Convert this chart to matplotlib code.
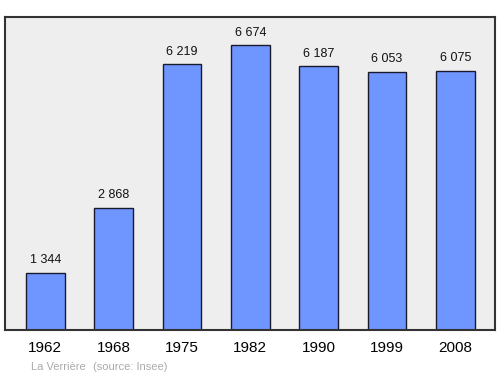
import matplotlib
matplotlib.use("Agg")
import matplotlib.pyplot as plt

years = ["1962", "1968", "1975", "1982", "1990", "1999", "2008"]
population = [1344, 2868, 6219, 6674, 6187, 6053, 6075]
value_labels = ["1 344", "2 868", "6 219", "6 674", "6 187", "6 053", "6 075"]

plt.rcParams['font.family'] = ['Liberation Sans', 'DejaVu Sans']

fig = plt.figure(figsize=(5, 3.74), dpi=100)
ax = fig.add_axes([0.01, 0.1176, 0.98, 0.837])
ax.set_facecolor('#eeeeee')
x = list(range(len(years)))
ax.bar(x, population, width=0.57, color='#6f96ff', edgecolor='#1a1a2e', linewidth=1.0, zorder=2)
for xi, v, lab in zip(x, population, value_labels):
    ax.annotate(lab, (xi, v), xytext=(0, 4.5), textcoords='offset points',
                ha='center', va='bottom', fontsize=9, color='#111111')
ax.set_xlim(-0.59, 6.58)
ax.set_ylim(0, 7330)
ax.set_yticks([])
ax.set_xticks(x)
ax.set_xticklabels(years, fontsize=11)
ax.tick_params(axis='x', length=0, pad=8)
for s in ax.spines.values():
    s.set_color('#333333')
    s.set_linewidth(1.5)
fig.text(0.062, 0.019, "La Verrière", fontsize=8, color='#aaaaaa', ha='left', va='center')
fig.text(0.186, 0.019, "(source: Insee)", fontsize=8, color='#aaaaaa', ha='left', va='center')
fig.savefig("out.png", dpi=100)
